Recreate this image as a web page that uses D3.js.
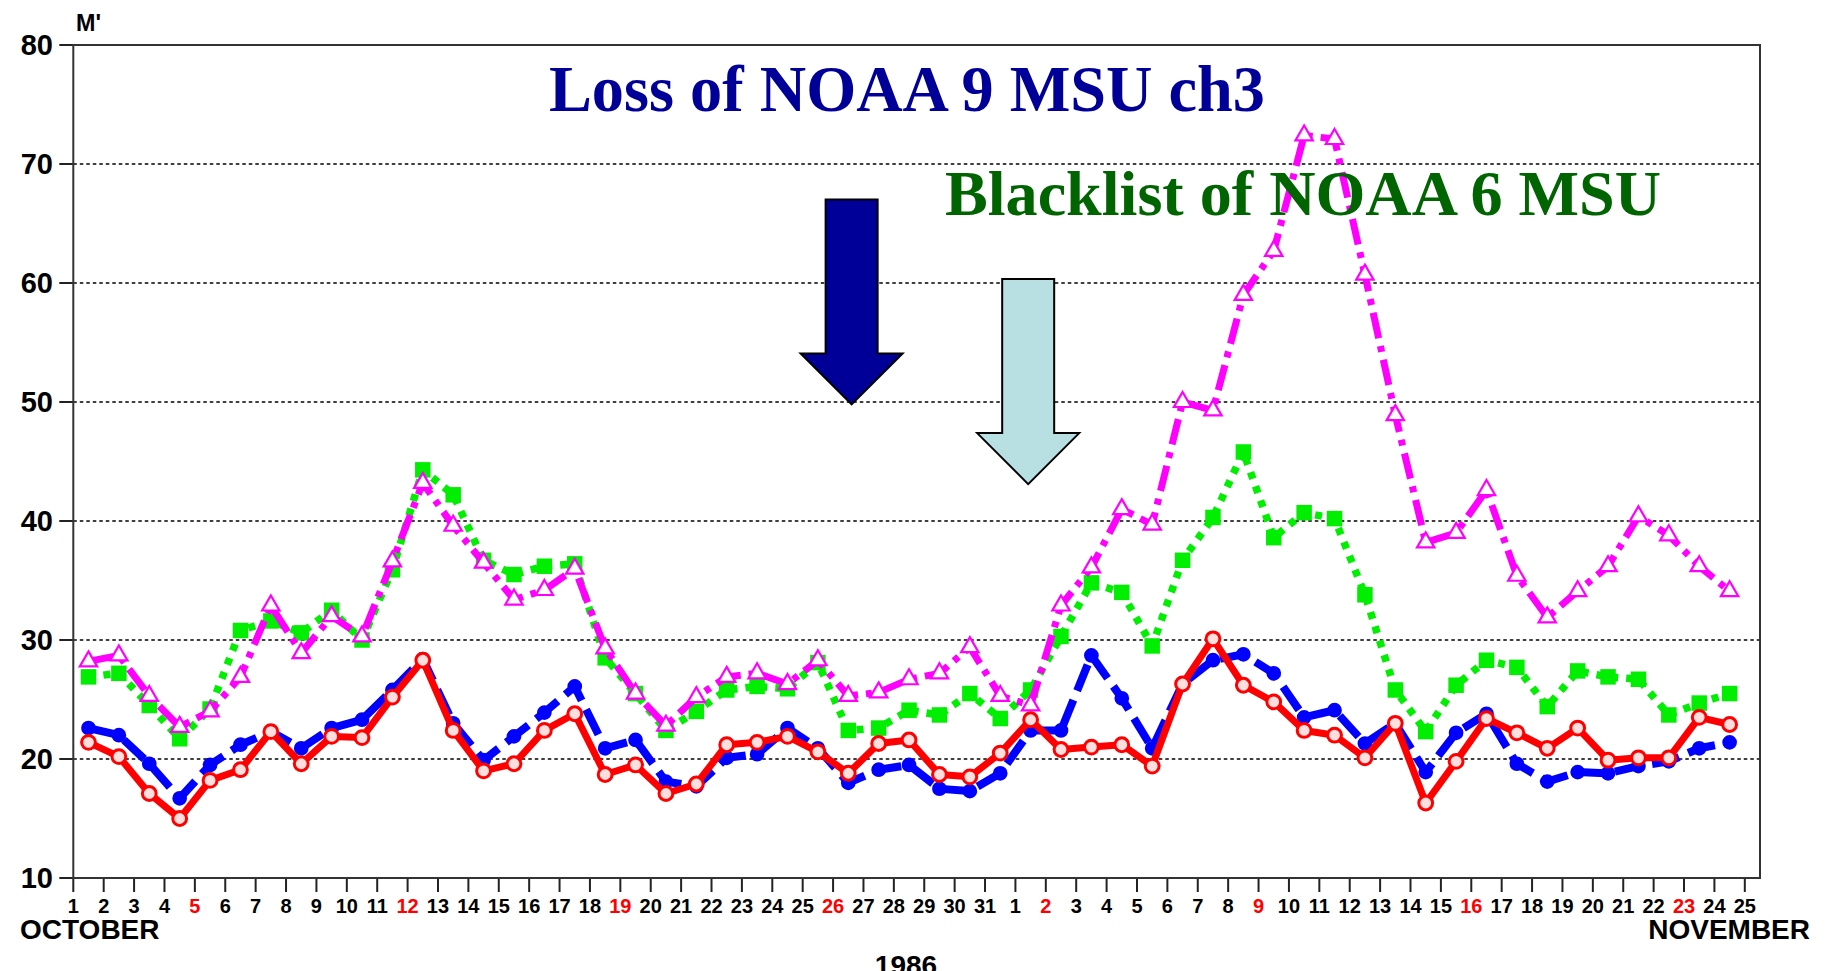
<!DOCTYPE html>
<html><head><meta charset="utf-8">
<script src="https://cdn.jsdelivr.net/npm/d3@7"></script>
<style>html,body{margin:0;padding:0;background:#fff;overflow:hidden}</style>
</head><body><svg id="c" width="1825" height="971"></svg>
<script>
// ---- data ----
const tickLabels = ["1","2","3","4","5","6","7","8","9","10","11","12","13","14","15","16","17","18","19","20","21","22","23","24","25","26","27","28","29","30","31",
  "1","2","3","4","5","6","7","8","9","10","11","12","13","14","15","16","17","18","19","20","21","22","23","24","25"];
const redTickIdx = [4,11,18,25,32,39,46,53];
const yTicks = [10,20,30,40,50,60,70,80];
const gridValues = [20,30,40,50,60,70];

const seriesRed = [21.4,20.2,17.1,15.0,18.2,19.1,22.3,19.6,21.9,21.8,25.2,28.3,22.4,19.0,19.6,22.4,23.8,18.7,19.5,17.1,17.9,21.2,21.4,21.9,20.6,18.8,21.3,21.6,18.7,18.5,20.5,
  23.3,20.8,21.0,21.2,19.4,26.3,30.1,26.2,24.8,22.4,22.0,20.1,23.0,16.3,19.8,23.4,22.2,20.9,22.6,19.9,20.1,20.1,23.5,22.9];
const seriesBlue = [22.6,22.0,19.6,16.7,19.5,21.2,22.3,20.9,22.6,23.3,25.8,28.4,23.0,19.9,21.9,23.9,26.1,20.9,21.6,18.1,17.7,20.1,20.4,22.6,20.9,18.0,19.1,19.5,17.5,17.3,18.8,
  22.4,22.4,28.7,25.1,20.9,26.3,28.3,28.8,27.2,23.5,24.1,21.3,23.0,18.9,22.2,23.8,19.6,18.1,18.9,18.8,19.4,19.8,20.9,21.4];
const seriesMagenta = [28.2,28.7,25.3,22.7,24.0,26.9,32.9,28.9,32.0,30.3,36.6,43.2,39.6,36.5,33.4,34.2,36.0,29.3,25.5,22.8,25.2,26.9,27.2,26.3,28.3,25.3,25.6,26.7,27.2,29.4,25.3,
  24.5,32.9,36.1,41.0,39.7,50.0,49.3,59.0,62.7,72.4,72.1,60.7,48.9,38.2,39.0,42.6,35.4,31.9,34.1,36.2,40.4,38.8,36.2,34.1];
const seriesGreen = [26.9,27.2,24.5,21.7,24.2,30.8,31.6,30.6,32.5,30.0,35.9,44.3,42.2,36.7,35.5,36.2,36.4,28.5,25.5,22.4,24.0,25.8,26.1,25.9,28.1,22.4,22.6,24.1,23.7,25.5,23.4,
  25.8,30.3,34.8,34.0,29.5,36.7,40.3,45.8,38.6,40.7,40.2,33.8,25.8,22.3,26.2,28.3,27.7,24.4,27.4,26.9,26.7,23.7,24.7,25.5];

const title1 = "Loss of NOAA 9 MSU ch3";
const title2 = "Blacklist of NOAA 6 MSU";
// arrow tips in data units (day index, value)
const arrowTips = [{x:25.61, y:49.8, fill:"#000099"}, {x:31.42, y:43.1, fill:"#b8e0e3"}];

// ---- layout ----
const L = 73.3, R = 1760, T = 45, B = 878;
const svg = d3.select("#c");
const x = d3.scaleLinear().domain([0, 55.5]).range([L, R]);
const y = d3.scaleLinear().domain([10, 80]).range([B, T]);
const sans = "Liberation Sans, Arial, sans-serif";
const serif = "Liberation Serif, Times New Roman, serif";

svg.append("rect").attr("width",1825).attr("height",971).attr("fill","#fff");

// gridlines
svg.append("g").selectAll("line").data(gridValues).join("line")
  .attr("x1", L).attr("x2", R).attr("y1", d=>y(d)).attr("y2", d=>y(d))
  .attr("stroke","#000").attr("stroke-width",1.6).attr("stroke-dasharray","3.5 3");

// y axis ticks & labels
const ya = svg.append("g");
ya.selectAll("line").data(yTicks).join("line")
  .attr("x1", L-14).attr("x2", L).attr("y1", d=>y(d)).attr("y2", d=>y(d))
  .attr("stroke","#222").attr("stroke-width",2);
ya.selectAll("text").data(yTicks).join("text")
  .attr("x", 53).attr("y", d=>y(d)).attr("dy","0.36em").attr("text-anchor","end")
  .attr("font-family",sans).attr("font-weight","bold").attr("font-size",29)
  .text(d=>d);
svg.append("text").attr("x",76).attr("y",31).attr("font-family",sans)
  .attr("font-weight","bold").attr("font-size",23).attr("textLength",25).attr("lengthAdjust","spacingAndGlyphs").text("M'");

// x axis ticks & labels
const xa = svg.append("g");
xa.selectAll("line").data(tickLabels).join("line")
  .attr("x1",(d,i)=>x(i)).attr("x2",(d,i)=>x(i)).attr("y1",B).attr("y2",B+14)
  .attr("stroke","#222").attr("stroke-width",2);
xa.selectAll("text").data(tickLabels).join("text")
  .attr("x",(d,i)=>x(i)).attr("y",913).attr("text-anchor","middle")
  .attr("font-family",sans).attr("font-weight","bold").attr("font-size",20)
  .attr("fill",(d,i)=>redTickIdx.includes(i)?"#ff0000":"#000")
  .text(d=>d);
svg.append("text").attr("x",20).attr("y",939).attr("font-family",sans).attr("font-weight","bold").attr("font-size",28).text("OCTOBER");
svg.append("text").attr("x",1810).attr("y",939).attr("text-anchor","end").attr("font-family",sans).attr("font-weight","bold").attr("font-size",28).text("NOVEMBER");
svg.append("text").attr("x",906).attr("y",975).attr("text-anchor","middle").attr("font-family",sans).attr("font-weight","bold").attr("font-size",28).text("1986");

// series
const line = d3.line().x((d,i)=>x(i+0.5)).y(d=>y(d));
function drawSeries(data, color, dash, width, marker){
  const g = svg.append("g");
  g.append("path").attr("d", line(data)).attr("fill","none").attr("stroke",color)
    .attr("stroke-width",width).attr("stroke-dasharray",dash).attr("stroke-linejoin","round");
  const m = g.selectAll("path.m").data(data).join("path").attr("class","m")
    .attr("transform",(d,i)=>`translate(${x(i+0.5)},${y(d)})`);
  marker(m);
}
drawSeries(seriesGreen, "#00ee00", "7 8", 7.5, m=>m.attr("d", d3.symbol(d3.symbolSquare, 240)()).attr("fill","#00ee00"));
drawSeries(seriesMagenta, "#ff00ff", "26 8 6 8", 7, m=>m.attr("d", d3.symbol(d3.symbolTriangle, 130)()).attr("fill","#fff").attr("stroke","#ff00ff").attr("stroke-width",2.2));
drawSeries(seriesBlue, "#0000ff", "28 10", 8, m=>m.attr("d", d3.symbol(d3.symbolCircle, 170)()).attr("fill","#0000ff"));
drawSeries(seriesRed, "#ff0000", null, 7, m=>m.attr("d", d3.symbol(d3.symbolCircle, 150)()).attr("fill","#ffdede").attr("stroke","#ff0000").attr("stroke-width",3));

// plot border
svg.append("rect").attr("x",L).attr("y",T).attr("width",R-L).attr("height",B-T)
  .attr("fill","none").attr("stroke","#333").attr("stroke-width",2);

// arrows
arrowTips.forEach(a=>{
  const tx = x(a.x), ty = y(a.y);
  const sw = 26, hw = 51, hh = 51, sl = 154;
  const pts = [[tx-sw,ty-hh-sl],[tx+sw,ty-hh-sl],[tx+sw,ty-hh],[tx+hw,ty-hh],[tx,ty],[tx-hw,ty-hh],[tx-sw,ty-hh]];
  svg.append("path").attr("d","M"+pts.map(p=>p.join(",")).join("L")+"Z")
    .attr("fill",a.fill).attr("stroke","#000").attr("stroke-width",2);
});

// annotation titles
svg.append("text").attr("x",549).attr("y",111).attr("font-family",serif)
  .attr("font-weight","bold").attr("font-size",65).attr("fill","#000099")
  .attr("textLength",716).attr("lengthAdjust","spacingAndGlyphs").text(title1);
svg.append("text").attr("x",945).attr("y",215).attr("font-family",serif)
  .attr("font-weight","bold").attr("font-size",64).attr("fill","#006400")
  .attr("textLength",716).attr("lengthAdjust","spacingAndGlyphs").text(title2);
</script></body></html>
